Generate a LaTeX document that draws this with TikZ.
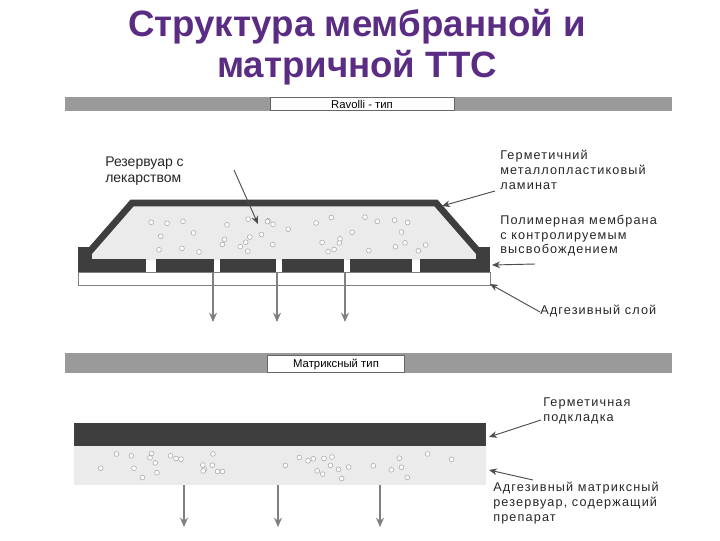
\documentclass[tikz,border=0pt]{standalone}
\usepackage{fontspec}
\setmainfont{Liberation Sans}
\newfontfamily\spaced[LetterSpace=9]{Liberation Sans}
\usetikzlibrary{arrows.meta}
\definecolor{ttl}{HTML}{5B2C83}
\definecolor{bar}{HTML}{9A9A9A}
\definecolor{dk}{HTML}{3E3E3E}
\definecolor{fillg}{HTML}{EBEBEB}
\tikzset{
  lbl/.style={align=left,anchor=north west,font=\spaced\fontsize{9.5}{11}\selectfont,text=black!85,inner sep=0pt},
  pt/.style={draw=black!70,line width=0.7pt,-{Stealth[length=6pt,width=5pt]}},
  rel/.style={draw=gray,line width=1pt,-{Stealth[length=7pt,width=6pt]}},
  banner/.style={fill=bar,draw=none},
  bbox/.style={fill=white,draw=black!60,line width=0.4pt,font=\fontsize{8.5}{10}\selectfont,inner sep=0pt}
}
\begin{document}
\begin{tikzpicture}[x=0.75pt,y=-0.75pt]
\useasboundingbox (0,0) rectangle (720,540);
% title
\node[font=\fontsize{27.5}{31}\selectfont\bfseries,text=ttl,align=center] (title) at (357,47) {Структура мембранной и\\матричной ТТС};
% banner 1
\fill[banner] (65,97) rectangle (672,111);
\node[bbox,minimum width=138pt,minimum height=10pt] (b1) at (362,104) {Ravolli - тип};
% ravioli body
\fill[fillg] (132,203) -- (436,203) -- (484,260) -- (84,260) -- cycle;
\pgfmathsetseed{7}
\foreach \i in {1,...,40}{
  \pgfmathsetmacro\xx{150+rnd*280}
  \pgfmathsetmacro\yy{215+rnd*38}
  \fill[white,draw=gray!70,line width=0.4pt] (\xx,\yy) circle (2.4);
}
\draw[dk,line width=5pt,line join=miter] (84,258) -- (132,203) -- (436,203) -- (484,258);
\fill[dk] (78,247) rectangle (92,272);
\fill[dk] (476,247) rectangle (490,272);
\foreach \a/\b in {92/146,156/214,220/276,282/344,350/412,420/476}{
  \fill[dk] (\a,259) rectangle (\b,272);
}
\draw[gray,fill=white,line width=0.6pt] (78,272) rectangle (490,285);
\coordinate (r1) at (213,272); \coordinate (r1e) at (213,322);
\coordinate (r2) at (277,272); \coordinate (r2e) at (277,322);
\coordinate (r3) at (345,272); \coordinate (r3e) at (345,322);
\draw[rel] (r1) -- (r1e); \draw[rel] (r2) -- (r2e); \draw[rel] (r3) -- (r3e);
% labels ravioli
\node[lbl,font=\fontsize{10.5}{12}\selectfont] (l1) at (105,157) {Резервуар с\\лекарством};
\coordinate (l1t) at (258,224);
\draw[pt] (234,170) -- (l1t);
\node[lbl] (l2) at (500,150) {Герметичний\\металлопластиковый\\ламинат};
\coordinate (l2t) at (442,206);
\draw[pt] (495,191) -- (l2t);
\node[lbl] (l3) at (500,215) {Полимерная мембрана\\с контролируемым\\высвобождением};
\coordinate (l3t) at (492,265);
\draw[pt] (535,264) -- (l3t);
\node[lbl] (l4) at (540,305) {Адгезивный слой};
\coordinate (l4t) at (490,284);
\draw[pt] (540,312) -- (l4t);
% banner 2
\fill[banner] (65,353) rectangle (672,373);
\node[bbox,minimum width=103pt,minimum height=13pt] (b2) at (336,364) {Матриксный тип};
% matrix
\fill[fillg] (74,446) rectangle (486,485);
\pgfmathsetseed{11}
\foreach \i in {1,...,38}{
  \pgfmathsetmacro\xx{85+rnd*390}
  \pgfmathsetmacro\yy{452+rnd*28}
  \fill[white,draw=gray!70,line width=0.4pt] (\xx,\yy) circle (2.4);
}
\fill[dk] (74,423) rectangle (486,446);
\coordinate (m1) at (184,485); \coordinate (m1e) at (184,527);
\coordinate (m2) at (278,485); \coordinate (m2e) at (278,527);
\coordinate (m3) at (380,485); \coordinate (m3e) at (380,527);
\draw[rel] (m1) -- (m1e); \draw[rel] (m2) -- (m2e); \draw[rel] (m3) -- (m3e);
\node[lbl] (l5) at (543,398) {Герметичная\\подкладка};
\coordinate (l5t) at (489,437);
\draw[pt] (541,420) -- (l5t);
\node[lbl] (l6) at (493,482) {Адгезивный матриксный\\резервуар, содержащий\\препарат};
\coordinate (l6t) at (489,470);
\draw[pt] (533,480) -- (l6t);
\end{tikzpicture}
\end{document}
